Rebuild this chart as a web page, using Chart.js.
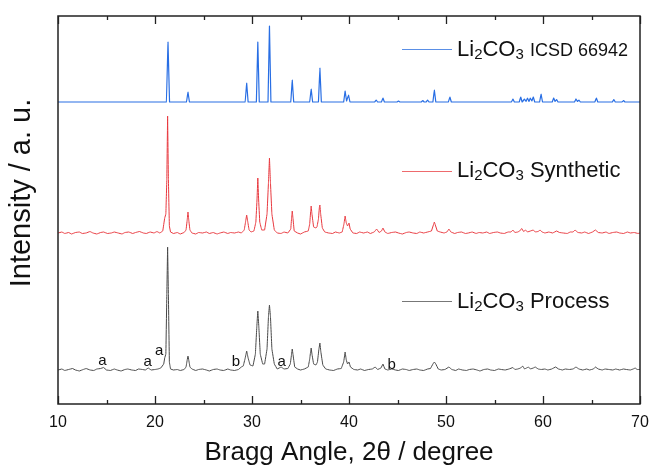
<!DOCTYPE html>
<html>
<head>
<meta charset="utf-8">
<script src="https://cdn.jsdelivr.net/npm/chart.js@4.4.1/dist/chart.umd.min.js"></script>
<style>
  html, body { margin: 0; padding: 0; background: #fff; }
  #wrap { position: relative; width: 653px; height: 466px; font-family: Arial, "Liberation Sans", sans-serif; color: #111; }
  canvas { position: absolute; left: 0; top: 0; }
  .key { position: absolute; left: 457px; font-size: 22px; line-height: 22px; white-space: nowrap; }
  .key sub { font-size: 15px; vertical-align: -3px; line-height: 0; }
  .key small { font-size: 18px; }
  .swatch { position: absolute; left: 402px; width: 50px; height: 1px; }
</style>
</head>
<body>
<div id="wrap">
  <canvas id="xrd" width="653" height="466"></canvas>
  <div class="swatch" style="top:49px; background:#5a8fe6"></div>
  <div class="key" style="top:38px">Li<sub>2</sub>CO<sub>3</sub> <small>ICSD 66942</small></div>
  <div class="swatch" style="top:171px; background:#ee6a6d"></div>
  <div class="key" style="top:159px">Li<sub>2</sub>CO<sub>3</sub> Synthetic</div>
  <div class="swatch" style="top:301px; background:#777"></div>
  <div class="key" style="top:290px">Li<sub>2</sub>CO<sub>3</sub> Process</div>
</div>
<script>
// 2theta / counts, offset traces
const icsd = [
  [10, 302],
  [21.18, 302], [21.34, 362], [21.5, 302],
  [23.25, 302], [23.4, 312], [23.55, 302],
  [29.3, 302], [29.45, 321], [29.6, 302],
  [30.45, 302], [30.6, 362], [30.75, 302],
  [31.65, 302], [31.8, 378], [31.95, 302],
  [34.0, 302], [34.15, 324], [34.3, 302],
  [35.95, 302], [36.1, 315], [36.25, 302],
  [36.85, 302], [37.0, 336], [37.15, 302],
  [39.45, 302], [39.6, 313], [39.75, 303], [39.95, 309], [40.1, 302],
  [42.65, 302], [42.8, 304], [42.95, 302],
  [43.35, 302], [43.5, 306], [43.65, 302],
  [44.95, 302], [45.1, 303], [45.25, 302],
  [47.45, 302], [47.6, 303.5], [47.75, 302],
  [47.95, 302], [48.1, 304], [48.25, 302],
  [48.65, 302], [48.8, 314], [48.95, 302],
  [50.25, 302], [50.4, 307], [50.55, 302],
  [56.75, 302], [56.9, 305], [57.05, 302],
  [57.55, 302], [57.7, 307], [57.85, 302], [58.1, 305], [58.25, 302.5], [58.4, 306], [58.55, 302.5],
  [58.7, 306], [58.85, 303], [59.0, 307], [59.15, 302],
  [59.65, 302], [59.8, 310], [59.95, 302],
  [60.95, 302], [61.1, 306], [61.25, 302.5], [61.4, 304.5], [61.55, 302],
  [63.25, 302], [63.4, 305], [63.55, 302.5], [63.7, 304], [63.85, 302],
  [65.35, 302], [65.5, 306], [65.65, 302],
  [67.15, 302], [67.3, 304.5], [67.45, 302],
  [68.15, 302], [68.3, 303.5], [68.45, 302],
  [70, 302]
];

const synthetic = [
  [10, 171], [10.4, 172], [10.7, 170.5], [11.1, 171.5], [11.4, 170], [11.8, 171.5], [12.2, 172], [12.5, 170.5],
  [12.9, 171], [13.3, 172.5], [13.6, 171], [14.0, 170], [14.4, 171.5], [14.7, 172], [15.1, 170.5], [15.5, 171],
  [15.8, 172], [16.2, 171], [16.6, 170], [16.9, 171.5], [17.3, 172], [17.7, 170.5], [18.0, 171.5], [18.4, 172.5],
  [18.8, 171], [19.1, 170.5], [19.5, 172], [19.9, 171], [20.2, 172.5], [20.5, 171], [20.8, 173],
  [21.0, 186], [21.12, 190], [21.22, 225], [21.3, 288], [21.38, 225], [21.48, 178], [21.6, 172],
  [21.9, 170.5], [22.3, 171.5], [22.6, 170], [23.0, 171.5],
  [23.2, 174], [23.32, 184], [23.4, 192], [23.48, 184], [23.6, 174],
  [23.8, 171], [24.2, 170], [24.5, 171.5], [24.9, 171], [25.3, 172], [25.6, 170.5], [26.0, 171.5], [26.4, 170],
  [26.7, 171], [27.1, 172], [27.5, 170.5], [27.8, 171.5], [28.2, 171], [28.6, 172], [28.9, 171],
  [29.2, 174], [29.35, 183], [29.45, 189], [29.55, 183], [29.7, 174], [29.9, 172],
  [30.2, 173], [30.4, 182], [30.52, 205], [30.6, 226], [30.68, 205], [30.8, 182], [31.0, 174],
  [31.3, 174], [31.55, 190], [31.7, 222], [31.8, 246], [31.9, 222], [32.05, 190], [32.3, 174],
  [32.6, 171], [33.0, 170.5], [33.3, 172], [33.7, 171],
  [34.0, 175], [34.08, 186], [34.15, 193], [34.22, 186], [34.35, 173],
  [34.7, 171], [35.0, 170], [35.4, 172], [35.8, 173],
  [35.95, 180], [36.05, 193], [36.1, 198], [36.18, 190], [36.35, 177], [36.6, 176], [36.7, 177],
  [36.85, 185], [36.95, 197], [37.0, 199], [37.08, 190], [37.25, 176],
  [37.5, 172], [37.9, 171], [38.3, 170.5], [38.6, 172], [39.0, 171],
  [39.3, 172], [39.48, 180], [39.6, 188], [39.72, 181], [39.85, 178], [40.0, 181], [40.12, 175],
  [40.4, 171], [40.8, 170.5], [41.1, 172], [41.5, 171], [41.9, 172], [42.2, 170.5], [42.6, 172],
  [42.85, 175], [43.1, 171.5], [43.35, 173], [43.5, 176], [43.7, 172],
  [44.0, 170.5], [44.4, 171.5], [44.8, 172], [45.1, 171], [45.5, 170], [45.9, 171.5], [46.2, 172],
  [46.6, 171], [47.0, 170.5], [47.3, 172], [47.7, 171], [48.1, 172], [48.5, 173],
  [48.7, 179], [48.8, 182], [48.9, 179], [49.1, 173],
  [49.4, 172], [49.8, 171], [50.1, 172], [50.3, 175], [50.5, 172], [50.9, 170.5], [51.2, 171.5],
  [51.6, 172], [52.0, 170.5], [52.3, 171], [52.7, 172], [53.1, 170.5], [53.4, 171.5], [53.8, 171],
  [54.2, 172], [54.5, 170.5], [54.9, 171.5], [55.3, 172], [55.6, 171], [56.0, 170.5], [56.4, 172],
  [56.7, 172], [56.9, 174], [57.1, 171.5], [57.4, 172], [57.6, 173], [57.8, 175.5], [58.0, 172.5],
  [58.2, 174], [58.4, 172], [58.7, 173], [59.0, 174], [59.2, 172], [59.5, 172.5], [59.7, 174],
  [59.9, 172], [60.2, 171], [60.6, 172], [61.0, 171], [61.4, 173], [61.7, 171.5], [62.1, 171],
  [62.5, 170.5], [62.8, 172], [63.1, 172], [63.3, 174], [63.6, 171.5], [64.0, 171], [64.3, 172],
  [64.7, 170.5], [65.1, 172], [65.4, 174], [65.7, 171.5], [66.1, 171], [66.5, 172], [66.8, 170.5],
  [67.2, 171.5], [67.6, 172], [67.9, 171], [68.3, 170.5], [68.7, 172], [69.0, 171], [69.4, 171.5],
  [69.8, 170.5], [70, 171]
];

const processed = [
  [10, 34], [10.4, 35], [10.7, 33.5], [11.1, 34.5], [11.5, 35.5], [11.8, 34], [12.2, 33], [12.6, 34.5],
  [12.9, 35.5], [13.3, 34], [13.7, 33.5], [14.0, 35], [14.4, 35.5], [14.7, 36.5], [15.0, 34], [15.4, 33.5],
  [15.8, 35], [16.1, 34], [16.5, 33], [16.9, 34.5], [17.2, 35], [17.6, 34], [18.0, 33.5], [18.3, 35],
  [18.7, 34.5], [19.0, 34], [19.3, 36], [19.6, 34], [20.0, 34.5], [20.3, 35], [20.6, 36], [20.9, 40],
  [21.0, 46], [21.12, 50], [21.22, 110], [21.3, 157], [21.38, 110], [21.48, 42], [21.6, 35],
  [21.9, 34], [22.3, 34.5], [22.6, 33.5], [23.0, 34.5],
  [23.2, 37], [23.32, 44], [23.4, 48], [23.48, 44], [23.6, 37],
  [23.8, 35], [24.2, 33.5], [24.5, 34.5], [24.9, 35], [25.3, 34], [25.6, 33], [26.0, 34.5], [26.4, 35],
  [26.7, 34], [27.1, 33.5], [27.5, 35], [27.8, 34], [28.2, 33.5], [28.6, 34.5], [28.9, 37],
  [29.1, 38], [29.3, 46], [29.45, 53], [29.6, 46], [29.8, 39],
  [30.1, 38], [30.35, 50], [30.5, 78], [30.6, 93], [30.7, 78], [30.85, 50], [31.1, 40],
  [31.3, 40], [31.55, 55], [31.7, 88], [31.8, 99], [31.9, 88], [32.05, 55], [32.3, 40],
  [32.6, 35], [33.0, 37], [33.3, 35], [33.7, 35.5],
  [33.95, 40], [34.08, 50], [34.15, 55], [34.22, 50], [34.4, 37],
  [34.7, 35], [35.0, 34], [35.4, 35], [35.8, 37],
  [35.95, 45], [36.05, 53], [36.1, 56], [36.18, 50], [36.35, 40], [36.6, 39],
  [36.75, 42], [36.9, 55], [37.0, 61], [37.1, 52], [37.3, 39],
  [37.6, 35], [38.0, 34], [38.4, 33.5], [38.8, 35], [39.2, 35.5],
  [39.45, 42], [39.6, 52], [39.72, 44], [39.85, 40], [40.0, 42], [40.15, 37],
  [40.5, 34.5], [40.9, 34], [41.2, 35], [41.6, 33.5], [42.0, 34.5], [42.4, 35],
  [42.7, 37], [42.95, 34.5], [43.3, 36], [43.5, 40], [43.7, 35],
  [44.0, 34], [44.4, 35], [44.8, 34], [45.1, 33.5], [45.5, 35], [45.9, 34.5], [46.2, 33.5],
  [46.6, 34.5], [47.0, 35], [47.3, 34], [47.7, 33.5], [48.1, 35], [48.4, 35.5],
  [48.65, 40], [48.8, 42], [48.95, 40], [49.2, 35],
  [49.5, 34], [49.9, 34.5], [50.3, 37], [50.6, 34.5], [51.0, 33.5], [51.3, 35], [51.7, 34],
  [52.1, 33.5], [52.4, 34.5], [52.8, 35], [53.2, 34], [53.5, 33], [53.9, 34.5], [54.3, 35],
  [54.6, 34], [55.0, 33.5], [55.4, 35], [55.7, 34.5], [56.1, 34], [56.5, 35], [56.9, 36.5],
  [57.1, 34.5], [57.4, 35], [57.7, 36], [57.9, 38], [58.1, 35], [58.3, 36], [58.5, 37],
  [58.7, 35], [59.0, 36], [59.2, 37], [59.5, 35], [59.8, 34.5], [60.2, 35], [60.5, 34],
  [60.9, 35], [61.3, 37], [61.6, 35], [62.0, 34], [62.3, 35], [62.7, 34.5], [63.1, 35],
  [63.4, 37], [63.7, 35], [64.1, 34], [64.5, 35], [64.8, 34], [65.2, 35], [65.4, 37],
  [65.7, 35], [66.1, 34], [66.4, 35], [66.8, 34.5], [67.2, 34], [67.5, 35], [67.9, 34],
  [68.3, 35], [68.6, 34.5], [69.0, 34], [69.3, 35], [69.5, 36], [69.7, 34.5], [70, 34.5]
];

// phase marks on the process pattern
const markLetters = ['a', 'a', 'a', 'b', 'a', 'b'];
const markAngles = [14.57, 19.25, 20.44, 28.35, 33.06, 44.4];
const markLevels = [38.7, 38.5, 48.7, 38.3, 38, 35];

const majorTicks = [10, 20, 30, 40, 50, 60, 70];
const minorTicks = [15, 25, 35, 45, 55, 65];

const FONT = 'Arial, "Liberation Sans", sans-serif';
const INK = '#222';

function toXY(list) {
    return list.map(p => ({ x: p[0], y: p[1] }));
}

const framePlugin = {
    id: 'frame',
    afterDraw(chart) {
        const ctx = chart.ctx;
        const a = chart.chartArea;
        const x = chart.scales.x;
        const y = chart.scales.y;
        ctx.save();
        ctx.strokeStyle = INK;
        ctx.lineWidth = 1.5;
        ctx.strokeRect(a.left, a.top, a.right - a.left, a.bottom - a.top);

        ctx.lineWidth = 1.3;
        ctx.beginPath();
        majorTicks.forEach(v => {
            const px = Math.round(x.getPixelForValue(v)) + 0.5;
            ctx.moveTo(px, a.bottom); ctx.lineTo(px, a.bottom - 8);
            ctx.moveTo(px, a.top); ctx.lineTo(px, a.top + 8);
        });
        minorTicks.forEach(v => {
            const px = Math.round(x.getPixelForValue(v)) + 0.5;
            ctx.moveTo(px, a.bottom); ctx.lineTo(px, a.bottom - 4);
            ctx.moveTo(px, a.top); ctx.lineTo(px, a.top + 4);
        });
        ctx.stroke();

        // a / b marks
        ctx.fillStyle = '#111';
        ctx.font = '15px ' + FONT;
        ctx.textAlign = 'center';
        ctx.textBaseline = 'alphabetic';
        markLetters.forEach((t, i) => {
            ctx.fillText(t, x.getPixelForValue(markAngles[i]), y.getPixelForValue(markLevels[i]));
        });

        // y title, drawn by hand so it can sit a bit above centre
        ctx.translate(22, 193);
        ctx.rotate(-Math.PI / 2);
        ctx.font = '29px ' + FONT;
        ctx.textBaseline = 'middle';
        ctx.fillText('Intensity / a. u.', 0, 0);
        ctx.restore();
    }
};

new Chart(document.getElementById('xrd'), {
    type: 'line',
    data: {
        datasets: [
            { label: 'ICSD 66942', data: toXY(icsd), borderColor: 'rgb(40,110,228)', borderWidth: 1.2 },
            { label: 'Synthetic', data: toXY(synthetic), borderColor: 'rgb(232,56,62)', borderWidth: 1 },
            { label: 'Process', data: toXY(processed), borderColor: 'rgb(72,72,72)', borderWidth: 1 }
        ]
    },
    plugins: [framePlugin],
    options: {
        responsive: false,
        animation: false,
        devicePixelRatio: 1,
        elements: {
            point: { radius: 0 },
            // tiny tension keeps chart.js off its fast path, which smears narrow peaks
            line: { tension: 0.0001, borderJoinStyle: 'round', borderCapStyle: 'round' }
        },
        layout: { padding: { top: 16, right: 13, left: 0, bottom: 0 } },
        plugins: {
            legend: { display: false },
            tooltip: { enabled: false }
        },
        scales: {
            x: {
                type: 'linear',
                min: 10,
                max: 70,
                grid: { display: false, drawTicks: false },
                border: { display: false },
                ticks: { stepSize: 10, padding: 9, color: '#111', font: { family: FONT, size: 16 } },
                title: {
                    display: true,
                    text: 'Bragg Angle, 2θ / degree',
                    color: '#111',
                    font: { family: FONT, size: 26 },
                    padding: { top: 0, bottom: -2 }
                },
                afterFit: function (scale) {
                    scale.height = 62;
                    scale.paddingLeft = 0;
                    scale.paddingRight = 0;
                }
            },
            y: {
                min: 0,
                max: 388,
                grid: { display: false, drawTicks: false },
                border: { display: false },
                ticks: { display: false },
                afterFit: function (scale) { scale.width = 58; }
            }
        }
    }
});
</script>
</body>
</html>
